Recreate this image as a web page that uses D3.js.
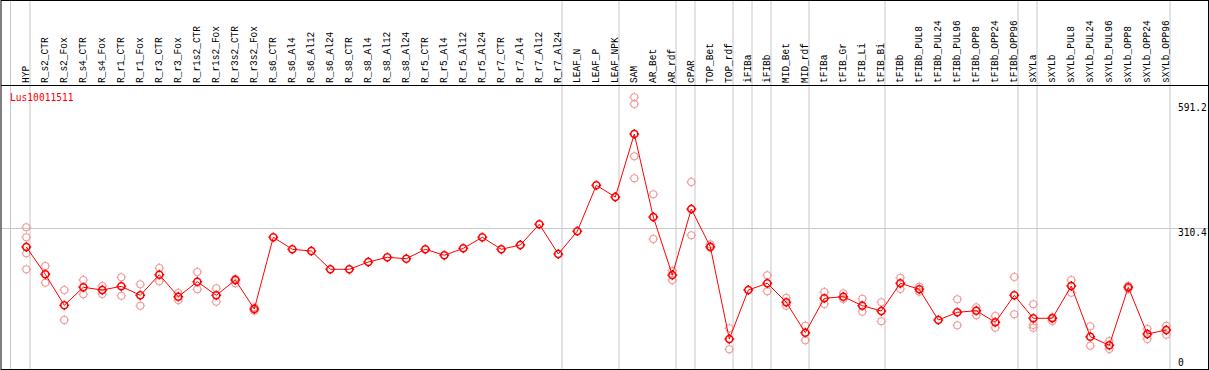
<!DOCTYPE html>
<html>
<head>
<meta charset="utf-8">
<script src="https://cdn.jsdelivr.net/npm/d3@7"></script>
<style>
  body { margin: 0; background: #fff; }
  text { font-family: "DejaVu Sans Mono", monospace; font-size: 9.6px; }
  text.lab { font-family: "Liberation Mono", monospace; font-size: 10px; }
</style>
</head>
<body>
<div id="app"></div>
<script>
const geneName = "Lus10011511";

const samples = [
  "HYP", "R_s2_CTR", "R_s2_Fox", "R_s4_CTR", "R_s4_Fox", "R_r1_CTR", "R_r1_Fox",
  "R_r3_CTR", "R_r3_Fox", "R_r1s2_CTR", "R_r1s2_Fox", "R_r3s2_CTR", "R_r3s2_Fox",
  "R_s6_CTR", "R_s6_Al4", "R_s6_Al12", "R_s6_Al24", "R_s8_CTR", "R_s8_Al4",
  "R_s8_Al12", "R_s8_Al24", "R_r5_CTR", "R_r5_Al4", "R_r5_Al12", "R_r5_Al24",
  "R_r7_CTR", "R_r7_Al4", "R_r7_Al12", "R_r7_Al24", "LEAF_N", "LEAF_P", "LEAF_NPK",
  "SAM", "AR_Bet", "AR_rdf", "cPAR", "TOP_Bet", "TOP_rdf", "iFIBa", "iFIBb",
  "MID_Bet", "MID_rdf", "tFIBa", "tFIB_Gr", "tFIB_Li", "tFIB_Bi", "tFIBb",
  "tFIBb_PUL8", "tFIBb_PUL24", "tFIBb_PUL96", "tFIBb_OPP8", "tFIBb_OPP24",
  "tFIBb_OPP96", "sXYLa", "sXYLb", "sXYLb_PUL8", "sXYLb_PUL24", "sXYLb_PUL96",
  "sXYLb_OPP8", "sXYLb_OPP24", "sXYLb_OPP96"
];

const means = [
  267.3, 206.0, 136.4, 176.8, 170.7, 179.0, 158.8, 205.1, 155.7, 189.4, 158.8,
  193.2, 128.0, 289.1, 262.2, 258.3, 217.2, 217.2, 233.6, 244.2, 241.0, 262.2,
  248.7, 264.4, 289.1, 262.2, 271.8, 318.3, 251.6, 302.8, 405.9, 379.6, 521.2,
  334.7, 204.4, 352.7, 268.0, 60.7, 170.7, 185.8, 143.1, 74.8, 152.1, 155.7,
  135.5, 123.6, 185.8, 172.3, 103.3, 120.6, 124.2, 98.2, 158.8, 107.2, 107.2,
  179.7, 65.8, 46.5, 176.8, 71.9, 80.9
];

const replicates = [
  [311.6, 289.1, 253.2, 217.2], [224.6, 206.0, 187.1], [170.7, 103.3],
  [193.2, 161.1], [179.7, 161.7], [199.3, 157.9], [183.5, 135.5], [220.1, 190.3],
  [164.0, 148.3], [211.2, 172.3], [174.5, 144.4], [196.1, 185.8], [131.9, 124.2],
  [], [], [], [], [], [], [], [], [], [], [], [], [], [], [], [], [], [], [],
  [603.6, 588.6, 471.1, 421.6], [385.7, 285.3], [214.1, 193.2], [413.3, 293.6],
  [273.4, 265.7], [84.7, 37.5], [], [203.7, 167.8], [153.4, 135.5], [90.5, 57.7],
  [166.2, 139.3], [163.3, 150.5], [151.2, 122.0], [143.1, 100.4], [198.4, 173.0],
  [178.1, 166.9], [], [149.8, 91.4], [131.9, 113.9], [112.3, 86.0], [199.9, 116.1],
  [138.6, 92.1, 86.0], [109.4, 101.1], [193.2, 164.7], [89.2, 45.6], [56.2, 38.2],
  [179.7, 173.0], [83.1, 60.7], [90.5, 70.3]
];

// a grey separator is drawn after each of these samples
const groupEnds = [
  "HYP", "R_r7_Al24", "LEAF_NPK", "AR_rdf", "cPAR", "TOP_rdf", "iFIBa", "iFIBb",
  "MID_rdf", "tFIB_Bi", "tFIBb_OPP96", "sXYLa", "sXYLb_OPP96"
];

const axisTicks = [0, 310.4, 591.2];
const gridTicks = [310.4];

const W = 1209, H = 370;
const headerBottom = 85.5;

const svg = d3.select("#app").append("svg")
  .attr("width", W).attr("height", H);

const x = d3.scaleBand().domain(samples).range([11.5, 11.5 + 19 * samples.length]);
const px = d => x(d) + 14.8;
const y = d3.scaleLinear().domain([0, 591.2]).range([366, 366 - 591.2 * 0.44516]);

// separators
svg.append("line")
  .attr("x1", x(samples[0]) - 1).attr("x2", x(samples[0]) - 1)
  .attr("y1", 0).attr("y2", H)
  .attr("stroke", "#c8c8c8");
svg.selectAll(".sep")
  .data(groupEnds)
  .enter().append("line")
  .attr("class", "sep")
  .attr("x1", d => x(d) + x.step() - 0.5)
  .attr("x2", d => x(d) + x.step() - 0.5)
  .attr("y1", 0).attr("y2", H)
  .attr("stroke", "#c8c8c8");

// horizontal grid
svg.selectAll(".grid")
  .data(gridTicks)
  .enter().append("line")
  .attr("class", "grid")
  .attr("x1", 1).attr("x2", W)
  .attr("y1", d => Math.round(y(d)) + 0.5)
  .attr("y2", d => Math.round(y(d)) + 0.5)
  .attr("stroke", "#c8c8c8");

// frame
svg.append("rect")
  .attr("x", 1).attr("y", 0.5)
  .attr("width", W - 1.5).attr("height", H - 1)
  .attr("fill", "none").attr("stroke", "#000");
svg.append("line")
  .attr("x1", 1).attr("x2", W)
  .attr("y1", headerBottom).attr("y2", headerBottom)
  .attr("stroke", "#000");

// sample labels
svg.selectAll(".lab")
  .data(samples)
  .enter().append("text")
  .attr("class", "lab")
  .attr("transform", d => `translate(${px(d) + 3},83) rotate(-90) scale(0.95,1)`)
  .attr("fill", "#000")
  .text(d => d);

// gene name
svg.append("text")
  .attr("x", 10).attr("y", 101)
  .attr("fill", "#ff0000")
  .text(geneName);

// right axis labels
svg.selectAll(".tick")
  .data(axisTicks)
  .enter().append("text")
  .attr("class", "tick")
  .attr("x", 1178)
  .attr("y", d => Math.min(y(d) + 8.5, 365.5))
  .attr("fill", "#000")
  .text(d => d === 0 ? "0" : d.toFixed(1));

// ring marker with small ticks
const ring = {
  draw(ctx) {
    const r = 3.5, t = 1.4;
    ctx.moveTo(r, 0);
    ctx.arc(0, 0, r, 0, 2 * Math.PI);
    ctx.moveTo(0, -r); ctx.lineTo(0, -r - t);
    ctx.moveTo(0, r); ctx.lineTo(0, r + t);
    ctx.moveTo(-r, 0); ctx.lineTo(-r - t, 0);
    ctx.moveTo(r, 0); ctx.lineTo(r + t, 0);
  }
};
const marker = d3.symbol().type(ring)();

// replicates
const repPts = samples.flatMap((s, i) => replicates[i].map(v => ({ s, v })));
svg.append("g").selectAll("path")
  .data(repPts)
  .enter().append("path")
  .attr("d", marker)
  .attr("transform", d => `translate(${px(d.s)},${y(d.v)})`)
  .attr("fill", "none")
  .attr("stroke", "#f09a9a")
  .attr("stroke-width", 1.1);

// mean line
const line = d3.line()
  .x((d, i) => px(samples[i]))
  .y(d => y(d));
svg.append("path")
  .datum(means)
  .attr("d", line)
  .attr("fill", "none")
  .attr("stroke", "#ff0000")
  .attr("stroke-width", 1);

// means
svg.append("g").selectAll("path")
  .data(means)
  .enter().append("path")
  .attr("d", marker)
  .attr("transform", (d, i) => `translate(${px(samples[i])},${y(d)})`)
  .attr("fill", "none")
  .attr("stroke", "#ff0000")
  .attr("stroke-width", 1.6);
</script>
</body>
</html>
